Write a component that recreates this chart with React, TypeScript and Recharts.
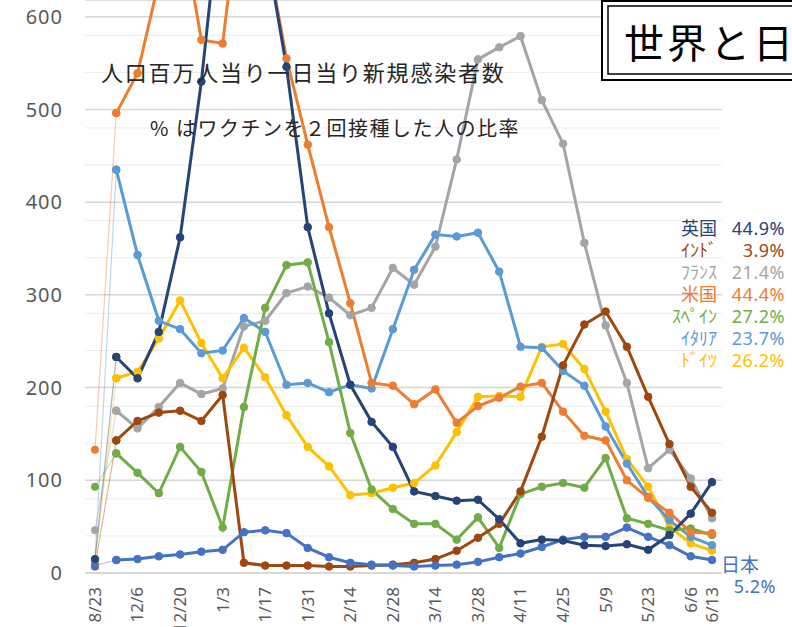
import { CartesianGrid, Line, LineChart, XAxis, YAxis } from 'recharts';

// weekly points; the first one (8/23) is a lone reference week
const weeks = ['8/23', '11/29', '12/6', '12/13', '12/20', '12/27', '1/3', '1/10', '1/17', '1/24', '1/31', '2/7', '2/14', '2/21', '2/28', '3/7', '3/14', '3/21', '3/28', '4/4', '4/11', '4/18', '4/25', '5/2', '5/9', '5/16', '5/23', '5/30', '6/6', '6/13'];
const shownWeeks = ['8/23', '12/6', '12/20', '1/3', '1/17', '1/31', '2/14', '2/28', '3/14', '3/28', '4/11', '4/25', '5/9', '5/23', '6/6', '6/13'];

const uk = [15, 233, 210, 260, 362, 530, 745, 800, 680, 546, 373, 280, 203, 163, 136, 88, 83, 78, 79, 58, 32, 36, 35, 30, 29, 31, 25, 41, 64, 98];
const india = [7, 143, 164, 173, 175, 164, 192, 11, 8, 8, 8, 7, 7, 8, 9, 11, 15, 24, 38, 53, 88, 147, 224, 268, 282, 244, 190, 139, 93, 65];
const france = [46, 175, 156, 179, 205, 193, 199, 266, 272, 302, 309, 297, 278, 286, 329, 311, 352, 446, 554, 567, 579, 510, 463, 356, 267, 205, 113, 133, 102, 59];
const usa = [133, 496, 539, 638, 707, 575, 571, 760, 680, 555, 462, 373, 291, 205, 202, 182, 198, 162, 180, 189, 201, 205, 174, 148, 143, 100, 81, 65, 44, 43];
const spain = [93, 129, 108, 86, 136, 109, 49, 179, 286, 332, 335, 249, 151, 90, 69, 53, 53, 36, 60, 27, 85, 93, 97, 92, 124, 59, 53, 46, 48, 41];
const italy = [14, 435, 343, 272, 263, 237, 240, 275, 260, 203, 205, 195, 203, 199, 263, 327, 365, 363, 367, 325, 244, 243, 218, 202, 158, 118, 82, 57, 39, 30];
const germany = [12, 210, 217, 253, 294, 248, 210, 243, 211, 170, 136, 115, 84, 86, 92, 97, 116, 152, 190, 191, 190, 244, 247, 220, 174, 123, 93, 50, 32, 24];
const japan = [8, 14, 15, 18, 20, 23, 25, 44, 46, 43, 27, 17, 11, 9, 8, 7, 8, 9, 12, 17, 21, 28, 36, 39, 39, 49, 39, 30, 18, 14];

const yTicks = [0, 100, 200, 300, 400, 500, 600];
const minorTicks = [20, 40, 60, 80, 120, 140, 160, 180, 220, 240, 260, 280, 320, 340, 360, 380, 420, 440, 460, 480, 520, 540, 560, 580];

// draw order = z order (first is at the bottom)
const SERIES = [
  { key: 'france', label: 'ﾌﾗﾝｽ', rate: '21.4%', values: france, color: '#A5A5A5' },
  { key: 'germany', label: 'ﾄﾞｲﾂ', rate: '26.2%', values: germany, color: '#FFC000' },
  { key: 'italy', label: 'ｲﾀﾘｱ', rate: '23.7%', values: italy, color: '#5B9BD5' },
  { key: 'spain', label: 'ｽﾍﾟｲﾝ', rate: '27.2%', values: spain, color: '#70AD47' },
  { key: 'usa', label: '米国', rate: '44.4%', values: usa, color: '#ED7D31' },
  { key: 'india', label: 'ｲﾝﾄﾞ', rate: '3.9%', values: india, color: '#9E480E' },
  { key: 'japan', label: '日本', rate: '5.2%', values: japan, color: '#4472C4' },
  { key: 'uk', label: '英国', rate: '44.9%', values: uk, color: '#264478' },
];

// legend order on the right side
const legendOrder = ['uk', 'india', 'france', 'usa', 'spain', 'italy', 'germany'];

// the 8/23 -> 11/29 jump is drawn as a faint thin segment, the rest as the normal line
const data = weeks.map((week, i) => {
  const row: Record<string, string | number | null> = { week };
  SERIES.forEach((s) => {
    row[s.key] = i === 0 ? null : s.values[i];
    row[s.key + '_head'] = i <= 1 ? s.values[i] : null;
  });
  return row;
});

const FONT = '"Noto Sans", "Liberation Sans", sans-serif';
const JP = '"Noto Sans CJK JP", "Noto Sans", sans-serif';

function WeekTick({ x, y, payload }: { x?: number; y?: number; payload?: { value: string } }) {
  if (!payload || !shownWeeks.includes(payload.value)) return null;
  return (
    <text
      x={x}
      y={y}
      transform={`rotate(-90 ${x} ${y})`}
      textAnchor="end"
      dy="0.35em"
      fontSize={17}
      fontFamily={FONT}
      fill="#595959"
    >
      {payload.value}
    </text>
  );
}

export default function App() {
  return (
    <div style={{ position: 'absolute', left: 0, top: 0, width: 792, height: 627, background: '#fff', overflow: 'hidden' }}>
      <LineChart width={792} height={627} data={data} margin={{ top: 0, right: 70, bottom: 0, left: 0 }}>
        <CartesianGrid vertical={false} horizontalValues={minorTicks} stroke="#ececec" strokeWidth={1} />
        <CartesianGrid vertical={false} stroke="#d6d6d6" strokeWidth={1.5} />
        <XAxis
          dataKey="week"
          interval={0}
          padding={{ left: 10, right: 10 }}
          tick={<WeekTick />}
          tickLine={false}
          tickSize={0}
          tickMargin={14}
          height={54}
          axisLine={{ stroke: '#d6d6d6', strokeWidth: 1.5 }}
        />
        <YAxis
          domain={[0, 618]}
          allowDataOverflow
          ticks={yTicks}
          width={85}
          axisLine={false}
          tickLine={false}
          tickSize={0}
          tickMargin={22}
          tick={{ fontSize: 20, fill: '#595959', fontFamily: FONT, letterSpacing: 1 }}
        />
        {SERIES.map((s) => (
          <Line
            key={s.key + '_head'}
            dataKey={s.key + '_head'}
            stroke={s.color}
            strokeWidth={1.2}
            strokeOpacity={0.4}
            dot={{ r: 4, fill: s.color, stroke: s.color, strokeWidth: 0 }}
            activeDot={false}
            isAnimationActive={false}
          />
        ))}
        {SERIES.map((s) => (
          <Line
            key={s.key}
            dataKey={s.key}
            stroke={s.color}
            strokeWidth={3}
            dot={{ r: 3.8, fill: s.color, stroke: s.color, strokeWidth: 1 }}
            activeDot={false}
            isAnimationActive={false}
          />
        ))}
      </LineChart>

      <svg width={792} height={627} style={{ position: 'absolute', left: 0, top: 0, pointerEvents: 'none' }}>
        <text x={101} y={81} fontSize={22} letterSpacing={1.8} fontFamily={JP} fill="#262626">
          人口百万人当り一日当り新規感染者数
        </text>
        <text x={150} y={136} fontSize={20} letterSpacing={1.5} fontFamily={JP} fill="#262626">
          % はワクチンを２回接種した人の比率
        </text>

        <rect x={602} y={1} width={200} height={79} fill="#fff" stroke="#000" strokeWidth={2} />
        <rect x={608} y={6} width={200} height={68} fill="none" stroke="#000" strokeWidth={1.5} />
        <text x={624} y={58} fontSize={40} letterSpacing={3} fontFamily={JP} fill="#000">
          世界と日
        </text>

        {legendOrder.map((k, i) => {
          const s = SERIES.find((d) => d.key === k)!;
          const y = 235 + i * 22;
          return (
            <g key={k}>
              <text x={717} y={y} textAnchor="end" fontSize={18} fontFamily={JP} fill={s.color}>
                {s.label}
              </text>
              <text x={785} y={y} textAnchor="end" fontSize={18} letterSpacing={0.5} fontFamily={FONT} fill={s.color}>
                {s.rate}
              </text>
            </g>
          );
        })}

        <text x={721} y={572} fontSize={19} fontFamily={JP} fill="#4472C4">
          日本
        </text>
        <text x={776} y={593} textAnchor="end" fontSize={18} letterSpacing={0.5} fontFamily={FONT} fill="#4472C4">
          5.2%
        </text>
      </svg>
    </div>
  );
}
